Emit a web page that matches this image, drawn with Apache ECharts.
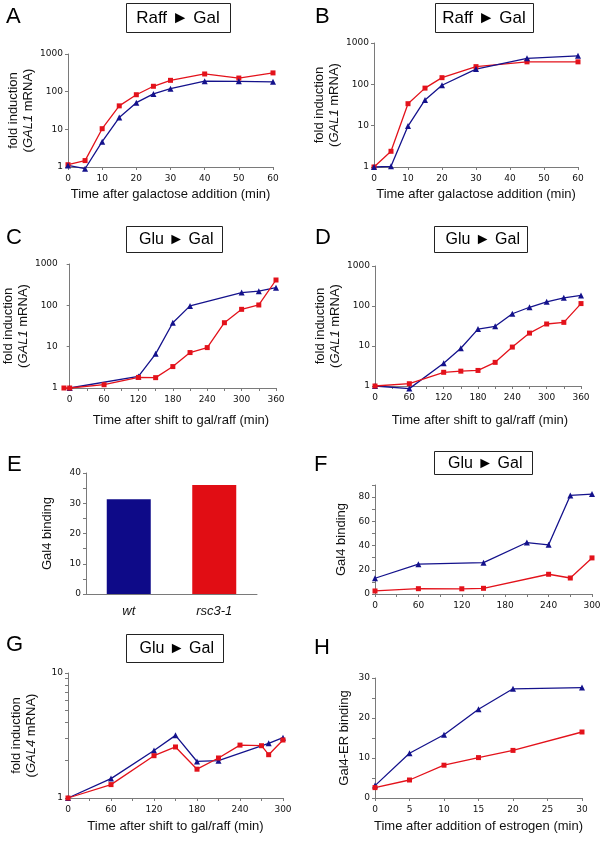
<!DOCTYPE html>
<html>
<head>
<meta charset="utf-8">
<style>
  html, body { margin: 0; padding: 0; background: #fff; }
  #chart { width: 614px; height: 851px; }
</style>
</head>
<body>
<div id="chart"></div>
<script src="https://cdn.jsdelivr.net/npm/echarts@6/dist/echarts.min.js"></script>
<script>
// ---- data ----
// A: Raff -> Gal, GAL1 mRNA fold induction
const timeA = [0, 5, 10, 15, 20, 25, 30, 40, 50, 60];
const redA = [1.15, 1.48, 10.4, 42, 83, 139, 200, 295, 230, 315];
const blueA = [1.1, 0.9, 4.7, 20.5, 51, 87, 120, 190, 188, 182];
// B: Raff -> Gal
const timeB = [0, 5, 10, 15, 20, 30, 45, 60];
const redB = [1, 2.4, 34, 81, 145, 268, 350, 350];
const blueB = [1, 1.04, 9.8, 42, 95, 234, 425, 490];
// C: Glu -> Gal
const timeCred = [-10, 0, 60, 120, 150, 180, 210, 240, 270, 300, 330, 360];
const redC = [1, 1, 1.2, 1.8, 1.78, 3.3, 7.2, 9.5, 38, 80, 102, 410];
const timeCblue = [0, 120, 150, 180, 210, 300, 330, 360];
const blueC = [1, 1.9, 6.7, 38, 97, 203, 220, 268];
// D: Glu -> Gal
const timeD = [0, 60, 120, 150, 180, 210, 240, 270, 300, 330, 360];
const redD = [1, 1.14, 2.2, 2.35, 2.45, 3.9, 9.4, 21, 35.5, 39, 115];
const blueD = [1, 0.86, 3.7, 8.8, 26.5, 31, 64, 93, 127, 160, 184];
// E: Gal4 binding
const strainsE = ['wt', 'rsc3-1'];
const bindingE = [31.3, 36.0];
// F: Glu -> Gal, Gal4 binding
const timeFred = [0, 60, 120, 150, 240, 270, 300];
const redF = [2.5, 4.4, 4.3, 4.7, 16.3, 13.2, 29.8];
const timeFblue = [0, 60, 150, 210, 240, 270, 300];
const blueF = [13, 24.6, 25.9, 42.5, 40.6, 81.4, 82.5];
// G: Glu -> Gal, GAL4 mRNA
const timeGred = [0, 60, 120, 150, 180, 210, 240, 270, 280, 300];
const redG = [1, 1.28, 2.18, 2.56, 1.70, 2.09, 2.65, 2.62, 2.22, 2.91];
const timeGblue = [0, 60, 120, 150, 180, 210, 280, 300];
const blueG = [1, 1.43, 2.40, 3.17, 1.96, 1.99, 2.74, 3.04];
// H: Gal4-ER binding after estrogen
const timeH = [0, 5, 10, 15, 20, 30];
const redH = [2.6, 4.5, 8.2, 10.1, 11.9, 16.5];
const blueH = [3.1, 11.2, 15.8, 22.2, 27.3, 27.6];

// tick labels
const logTicks = [1, 10, 100, 1000];
const ticksA = [0, 10, 20, 30, 40, 50, 60];
const ticks360 = [0, 60, 120, 180, 240, 300, 360];
const minor360 = [0, 30, 60, 90, 120, 150, 180, 210, 240, 270, 300, 330, 360];
const ticks300 = [0, 60, 120, 180, 240, 300];
const minor300 = [0, 30, 60, 90, 120, 150, 180, 210, 240, 270, 300];
const ticksH = [0, 5, 10, 15, 20, 25, 30];

const RED = '#e3121b';
const BLUE = '#14128c';
const AXIS = '#7a7a7a';

const zip = (xs, ys) => xs.map((x, i) => [x, ys[i]]);

const tickFont = { fontFamily: 'DejaVu Sans', fontSize: 9, color: '#111' };
const nameFont = {
  fontFamily: 'Liberation Sans', fontSize: 13, color: '#111', lineHeight: 15,
  rich: { it: { fontFamily: 'Liberation Sans', fontSize: 13, fontStyle: 'italic', color: '#111', lineHeight: 15 } }
};

const grids = [
  { left: 68, top: 54, width: 205, height: 113 },   // A
  { left: 374, top: 43, width: 204, height: 124 },  // B
  { left: 61, top: 264, width: 215, height: 124 },  // C
  { left: 375, top: 266, width: 206, height: 120 }, // D
  { left: 86, top: 473, width: 171, height: 121 },  // E
  { left: 375, top: 485, width: 217, height: 109 }, // F
  { left: 68, top: 673, width: 215, height: 125 },  // G
  { left: 375, top: 678, width: 207, height: 120 }  // H
];

function xValue(idx, min, max, labels, ticks, name, gap) {
  return {
    gridIndex: idx, type: 'value', min: min, max: max,
    name: name, nameLocation: 'middle', nameGap: gap, nameTextStyle: nameFont,
    axisLine: { onZero: false, lineStyle: { color: AXIS } },
    axisTick: { customValues: ticks, length: 3, lineStyle: { color: AXIS } },
    axisLabel: Object.assign({ customValues: labels, margin: 7 }, tickFont),
    splitLine: { show: false }
  };
}

function yLog(idx, min, max, labels, ticks, name, gap) {
  return {
    gridIndex: idx, type: 'log', logBase: 10, min: min, max: max,
    name: name, nameLocation: 'middle', nameGap: gap, nameTextStyle: nameFont,
    axisLine: { show: true, onZero: true, lineStyle: { color: AXIS } },
    axisTick: { show: true, customValues: ticks, length: 3, lineStyle: { color: AXIS } },
    axisLabel: Object.assign({ customValues: labels, margin: 5, formatter: v => String(Math.round(v)) }, tickFont),
    splitLine: { show: false }
  };
}

function yValue(idx, min, max, labels, ticks, name, gap) {
  return {
    gridIndex: idx, type: 'value', min: min, max: max,
    name: name, nameLocation: 'middle', nameGap: gap, nameTextStyle: nameFont,
    axisLine: { show: true, onZero: false, lineStyle: { color: AXIS } },
    axisTick: { show: true, customValues: ticks, length: 3, lineStyle: { color: AXIS } },
    axisLabel: Object.assign({ customValues: labels, margin: 5 }, tickFont),
    splitLine: { show: false }
  };
}

function line(idx, data, color, symbol, size) {
  return {
    type: 'line', xAxisIndex: idx, yAxisIndex: idx, data: data,
    symbol: symbol, symbolSize: size, clip: false, animation: false,
    lineStyle: { color: color, width: 1.3 },
    itemStyle: { color: color }
  };
}
const red = (idx, data) => line(idx, data, RED, 'rect', 5);
const blue = (idx, data) => line(idx, data, BLUE, 'triangle', 6);

const gal1Name = 'fold induction\n({it|GAL1} mRNA)';
const timeGal = 'Time after galactose addition (min)';
const timeShift = 'Time after shift to gal/raff (min)';

const xAxes = [
  xValue(0, 0, 60, ticksA, ticksA, timeGal, 20),
  xValue(1, 0, 60, ticksA, ticksA, timeGal, 20),
  xValue(2, -12, 360, ticks360, minor360, '', 0),
  xValue(3, 0, 360, ticks360, minor360, '', 0),
  {
    gridIndex: 4, type: 'category', data: strainsE,
    axisLine: { lineStyle: { color: AXIS } },
    axisTick: { show: false },
    axisLabel: { fontFamily: 'Liberation Sans', fontSize: 13, fontStyle: 'italic', color: '#111', margin: 11 }
  },
  xValue(5, 0, 300, ticks300, minor300, '', 0),
  xValue(6, 0, 300, ticks300, minor300, timeShift, 21),
  xValue(7, 0, 30, ticksH, ticksH, 'Time after addition of estrogen (min)', 21)
];

const yAxes = [
  yLog(0, 1, 1000, logTicks, logTicks, gal1Name, 30),
  yLog(1, 1, 1000, logTicks, logTicks, gal1Name, 31),
  yLog(2, 1, 1000, logTicks, logTicks, gal1Name, 30),
  yLog(3, 1, 1000, logTicks, logTicks, gal1Name, 31),
  yValue(4, 0, 40, [0, 10, 20, 30, 40], [0, 5, 10, 15, 20, 25, 30, 35, 40], 'Gal4 binding', 31),
  yValue(5, 0, 90, [0, 20, 40, 60, 80], [0, 10, 20, 30, 40, 50, 60, 70, 80, 90], 'Gal4 binding', 26),
  yLog(6, 1, 10, [1, 10], [1, 2, 3, 4, 5, 6, 7, 8, 9, 10], 'fold induction\n({it|GAL4} mRNA)', 29),
  yValue(7, 0, 30, [0, 10, 20, 30], [0, 5, 10, 15, 20, 25, 30], 'Gal4-ER binding', 23)
];
// C: y axis sits on x = 0, the first sample is drawn left of it
yAxes[2].axisLine.onZero = true;

const series = [
  red(0, zip(timeA, redA)), blue(0, zip(timeA, blueA)),
  red(1, zip(timeB, redB)), blue(1, zip(timeB, blueB)),
  blue(2, zip(timeCblue, blueC)), red(2, zip(timeCred, redC)),
  blue(3, zip(timeD, blueD)), red(3, zip(timeD, redD)),
  {
    type: 'bar', xAxisIndex: 4, yAxisIndex: 4, barWidth: 44, animation: false,
    data: [
      { value: bindingE[0], itemStyle: { color: '#0e0a88' } },
      { value: bindingE[1], itemStyle: { color: '#e10d14' } }
    ]
  },
  blue(5, zip(timeFblue, blueF)), red(5, zip(timeFred, redF)),
  blue(6, zip(timeGblue, blueG)), red(6, zip(timeGred, redG)),
  blue(7, zip(timeH, blueH)), red(7, zip(timeH, redH))
];

// panel letters and boxed condition labels
const letters = [
  ['A', 6, 17], ['B', 315, 17], ['C', 6, 238], ['D', 315, 238],
  ['E', 7, 465], ['F', 314, 465], ['G', 6, 645], ['H', 314, 648]
];
const boxes = [
  ['Raff \u25BA Gal', 126, 3, 104, 29, 17],
  ['Raff \u25BA Gal', 435, 3, 98, 29, 17],
  [' Glu \u25BA Gal', 126, 226, 96, 26, 16],
  [' Glu \u25BA Gal', 434, 226, 93, 26, 16],
  [' Glu \u25BA Gal', 434, 451, 98, 23, 16],
  [' Glu \u25BA Gal', 126, 634, 97, 28, 16]
];
const graphics = [];
letters.forEach(([t, x, y]) => graphics.push({
  type: 'text', left: x, top: y - 11,
  style: { text: t, font: '22px "Liberation Sans"', fill: '#000' }
}));
boxes.forEach(([t, x, y, w, h, fs]) => {
  graphics.push({
    type: 'rect', shape: { x: x + 0.5, y: y + 0.5, width: w, height: h },
    style: { fill: '#fff', stroke: '#222', lineWidth: 1 }
  });
  graphics.push({
    type: 'text', x: x + w / 2, y: y + h / 2 + 1,
    style: { text: t, font: fs + 'px "Liberation Sans"', fill: '#000', textAlign: 'center', textVerticalAlign: 'middle' }
  });
});
// x titles for C, D (drawn below the tick labels)
graphics.push({
  type: 'text', x: 181, y: 420,
  style: { text: timeShift, font: '13px "Liberation Sans"', fill: '#111', textAlign: 'center', textVerticalAlign: 'middle' }
});
graphics.push({
  type: 'text', x: 480, y: 420,
  style: { text: timeShift, font: '13px "Liberation Sans"', fill: '#111', textAlign: 'center', textVerticalAlign: 'middle' }
});

const chart = echarts.init(document.getElementById('chart'));
chart.setOption({
  animation: false,
  backgroundColor: '#fff',
  grid: grids,
  xAxis: xAxes,
  yAxis: yAxes,
  series: series,
  graphic: graphics
});
</script>
</body>
</html>
